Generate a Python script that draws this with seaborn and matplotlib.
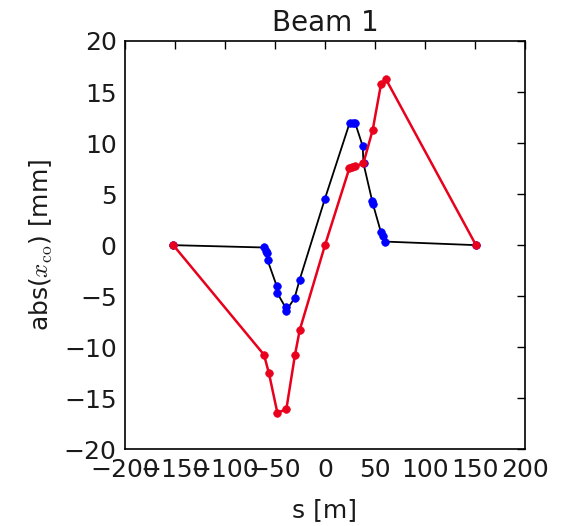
import matplotlib
matplotlib.use("Agg")
import matplotlib.pyplot as plt
import seaborn as sns
import pandas as pd

# Black line / blue markers series
s_blue = [-151.7, -61, -59.5, -58.5, -57.5, -48.3, -47.7, -39.5, -39, -30.5, -25.5,
          0, 24.5, 27.5, 30.3, 37.7, 38.5, 47.3, 48, 56, 57.7, 60, 151]
x_blue = [0, -0.23, -0.55, -0.8, -1.45, -4.0, -4.7, -6.1, -6.45, -5.2, -3.44,
          4.57, 11.93, 11.95, 11.93, 9.7, 8.0, 4.28, 4.0, 1.25, 0.9, 0.35, 0]

# Red series
s_red = [-151.7, -61, -56, -47.7, -38.7, -30, -25.3, 0, 24.3, 27.3, 30.3, 38.3,
         47.7, 56, 60.7, 151]
x_red = [0, -10.74, -12.57, -16.4, -16.1, -10.74, -8.33, 0, 7.52, 7.65, 7.75, 8.0,
         11.29, 15.77, 16.3, 0]

x_ticks = [-200, -150, -100, -50, 0, 50, 100, 150, 200]
y_ticks = [-20, -15, -10, -5, 0, 5, 10, 15, 20]

sns.set_style("white")
plt.rcParams["font.family"] = ["DejaVu Sans"]
plt.rcParams["mathtext.fontset"] = "cm"

df_b = pd.DataFrame({"s": s_blue, "x": x_blue})
df_r = pd.DataFrame({"s": s_red, "x": x_red})

fig = plt.figure(figsize=(5.62, 5.26), dpi=100)
ax = fig.add_axes([125 / 562, 1 - 449.3 / 526, 400 / 562, (449.3 - 41) / 526])

sns.lineplot(data=df_b, x="s", y="x", sort=False, estimator=None, color="black",
             linewidth=1.3, ax=ax, zorder=2)
sns.scatterplot(data=df_b, x="s", y="x", color="blue", edgecolor="blue", s=30,
                linewidth=0.5, ax=ax, zorder=3)
sns.lineplot(data=df_r, x="s", y="x", sort=False, estimator=None, color="#e8001c",
             linewidth=1.8, ax=ax, zorder=4)
sns.scatterplot(data=df_r, x="s", y="x", color="#e8001c", edgecolor="#e8001c", s=30,
                linewidth=0.5, ax=ax, zorder=5)

ax.set_xlim(-200, 200)
ax.set_ylim(-20, 20)
ax.set_xticks(x_ticks)
ax.set_yticks(y_ticks)
ax.set_xticklabels([f"\u2212{abs(v)}" if v < 0 else str(v) for v in x_ticks])
ax.set_yticklabels([f"\u2212{abs(v)}" if v < 0 else str(v) for v in y_ticks])
ax.tick_params(direction="in", length=6, width=1, labelsize=18, pad=6,
               top=True, right=True, colors="black", labelcolor="#1a1a1a")
for sp in ax.spines.values():
    sp.set_visible(True)
    sp.set_color("black")
    sp.set_linewidth(1.2)

ax.set_xlabel("s [m]", fontsize=18, color="#1a1a1a", labelpad=12)
ax.set_ylabel(r"abs($x_{\rm co}$) [mm]", fontsize=18, color="#1a1a1a", labelpad=6)
ax.set_title("Beam 1", fontsize=20, color="#1a1a1a", pad=7)

fig.savefig("out.png", dpi=100)
